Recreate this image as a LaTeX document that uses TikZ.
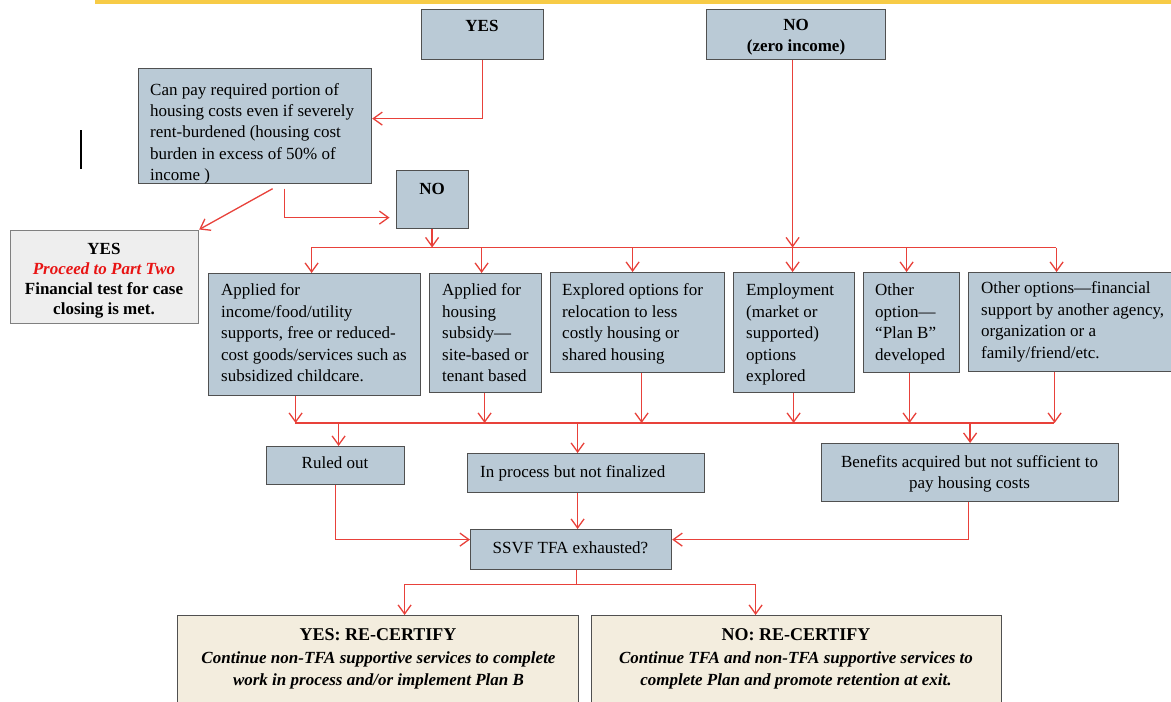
\documentclass[tikz,border=0pt]{standalone}
\usepackage{fontspec}
\setmainfont{Liberation Serif}
\usetikzlibrary{arrows.meta}
\definecolor{boxfill}{RGB}{186,202,214}
\definecolor{boxline}{RGB}{80,80,80}
\definecolor{lgray}{RGB}{238,238,238}
\definecolor{tanfill}{RGB}{243,237,222}
\definecolor{redline}{RGB}{232,65,58}
\definecolor{topgold}{RGB}{247,203,70}
\definecolor{redtext}{RGB}{232,20,20}
\begin{document}
\begin{tikzpicture}[x=1pt,y=-1pt,
  bx/.style={draw=boxline, fill=boxfill, line width=1.2pt, inner sep=0pt, anchor=north west},
  tx/.style={inner sep=0pt, font=\fontsize{17}{21.5}\selectfont, align=left, anchor=north west},
  bt/.style={inner sep=0pt, font=\bfseries\fontsize{17}{21}\selectfont, align=center, anchor=north},
  ln/.style={draw=redline, line width=1.3pt},
  arr/.style={ln, -{Straight Barb[length=9pt,width=13pt]}},
]
\useasboundingbox (0,0) rectangle (1171,702);
\fill[white] (0,0) rectangle (1171,702);
\fill[fill=topgold] (95,-1) rectangle (1171,3.5);
\draw[black, line width=1.3pt] (81,130) -- (81,169);

% boxes
\node[bx, minimum width=122pt, minimum height=50.5pt] (yes1) at (421,8.5) {};
\node[bx, minimum width=179pt, minimum height=50.5pt] (no1) at (706,8.5) {};
\node[bx, minimum width=233.5pt, minimum height=114.5pt] (canpay) at (137.5,68) {};
\node[bx, minimum width=72pt, minimum height=58pt] (no2) at (395.5,169.5) {};
\node[bx, fill=lgray, draw=gray, minimum width=188pt, minimum height=93pt] (yesleft) at (10,229.5) {};
\node[bx, minimum width=212pt, minimum height=122pt] (b1) at (208,273) {};
\node[bx, minimum width=112pt, minimum height=119pt] (b2) at (429,273) {};
\node[bx, minimum width=174pt, minimum height=100pt] (b3) at (550,272) {};
\node[bx, minimum width=121pt, minimum height=120pt] (b4) at (733,272) {};
\node[bx, minimum width=96pt, minimum height=100pt] (b5) at (863,272) {};
\node[bx, minimum width=210pt, minimum height=99pt] (b6) at (968,272) {};
\node[bx, minimum width=138pt, minimum height=38pt] (ruled) at (266,446) {};
\node[bx, minimum width=237pt, minimum height=39pt] (inproc) at (467,453) {};
\node[bx, minimum width=297pt, minimum height=58pt] (benefits) at (821,443) {};
\node[bx, minimum width=201pt, minimum height=40pt] (ssvf) at (470,529) {};
\node[bx, fill=tanfill, minimum width=401pt, minimum height=95pt] (yesrc) at (177,615) {};
\node[bx, fill=tanfill, minimum width=410pt, minimum height=95pt] (norc) at (591,615) {};

% texts
\node[bt] (t-yes1) at (482,20) {YES};
\begin{scope}
\clip (no1.north west) rectangle (no1.south east);
\node[bt] (t-no1) at (796,19.5) {NO\\(zero income)};
\end{scope}
\begin{scope}
\clip (canpay.north west) rectangle (canpay.south east);
\node[tx, font=\fontsize{17}{21.3}\selectfont] (t-canpay) at (150,83) {Can pay required portion of\\housing costs even if severely\\rent-burdened (housing cost\\burden in excess of 50\% of\\income )};
\end{scope}
\node[bt] (t-no2) at (432,183.5) {NO};
\node[bt, font=\bfseries\fontsize{17}{20}\selectfont] (t-yesleft) at (104,243) {YES\\{\color{redtext}\itshape Proceed to Part Two}\\Financial test for case\\closing is met.};
\node[tx] (t-b1) at (221,283.5) {Applied for\\income/food/utility\\supports, free or reduced-\\cost goods/services such as\\subsidized childcare.};
\node[tx] (t-b2) at (442,283.5) {Applied for\\housing\\subsidy—\\site-based or\\tenant based};
\node[tx] (t-b3) at (562,283.5) {Explored options for\\relocation to less\\costly housing or\\shared housing};
\node[tx] (t-b4) at (746,283.5) {Employment\\(market or\\supported)\\options\\explored};
\node[tx] (t-b5) at (875,283.5) {Other\\option—\\“Plan B”\\developed};
\node[tx] (t-b6) at (981,281.5) {Other options—financial\\support by another agency,\\organization or a\\family/friend/etc.};
\node[inner sep=0pt, font=\fontsize{17}{21}\selectfont, anchor=base] (t-ruled) at (335,468.5) {Ruled out};
\node[inner sep=0pt, font=\fontsize{17}{21}\selectfont, anchor=base west] (t-inproc) at (480,477) {In process but not finalized};
\node[inner sep=0pt, font=\fontsize{17}{21}\selectfont, align=center, anchor=north] (t-ben) at (969.5,455.5) {Benefits acquired but not sufficient to\\pay housing costs};
\node[inner sep=0pt, font=\fontsize{17}{21}\selectfont, anchor=base] (t-ssvf) at (570.5,553) {SSVF TFA exhausted?};
\node[inner sep=0pt, font=\bfseries\fontsize{18}{22}\selectfont, anchor=base] (t-yesrc) at (378,640) {YES: RE-CERTIFY};
\node[inner sep=0pt, font=\bfseries\itshape\fontsize{17}{22}\selectfont, align=center, anchor=north] (t-yesrc2) at (378.5,651.5) {Continue non-TFA supportive services to complete\\work in process and/or implement Plan B};
\node[inner sep=0pt, font=\bfseries\fontsize{18}{22}\selectfont, anchor=base] (t-norc) at (796,640) {NO: RE-CERTIFY};
\node[inner sep=0pt, font=\bfseries\itshape\fontsize{17}{22}\selectfont, align=center, anchor=north] (t-norc2) at (796,651.5) {Continue TFA and non-TFA supportive services to\\complete Plan and promote retention at exit.};

% connectors
\draw[arr] (yes1.south) |- ([yshift=7.25pt]canpay.east);
\draw[arr] ([xshift=17.75pt,yshift=-5pt]canpay.south) -- (yesleft.north east);
\draw[arr, shorten >=6pt] ([xshift=29.75pt,yshift=-5pt]canpay.south) |- ([yshift=-18.5pt]no2.west);

\coordinate (dL) at (311,247.5);
\coordinate (dR) at (1056,247.5);
\draw[ln] (dL) -- (dR);
\draw[arr] (no2.south) -- (no2.south |- dL);
\draw[arr] ([xshift=-3.5pt]no1.south) -- ([xshift=-3.5pt]no1.south |- dL);
\foreach \b/\s in {b1/-3,b2/-4,b3/-5,b4/-1.5,b5/-5,b6/-17}
  \draw[arr] ([xshift=\s pt]\b.north |- dL) -- ([xshift=\s pt]\b.north);

\coordinate (cL) at (295,423);
\coordinate (cR) at (1054,423);
\foreach \b/\s in {b1/-19,b2/-1,b3/4,b4/-0.5,b5/-2,b6/-19}
  \draw[arr] ([xshift=\s pt]\b.south) -- ([xshift=\s pt]\b.south |- cL);
\draw[ln] (cL) -- (cR);
\draw[arr] ([xshift=3pt]ruled.north |- cL) -- ([xshift=3pt]ruled.north);
\draw[arr] ([xshift=-8.5pt]inproc.north |- cL) -- ([xshift=-8.5pt]inproc.north);
\draw[arr] (benefits.north |- cL) -- (benefits.north);

\draw[arr] (ruled.south) |- ([yshift=10pt]ssvf.west);
\draw[arr] ([xshift=-8.5pt]inproc.south) -- ([xshift=-8.5pt]inproc.south |- ssvf.north);
\draw[arr] ([xshift=-1.5pt]benefits.south) |- ([yshift=10pt]ssvf.east);

\coordinate (sJ) at ([xshift=5.5pt,yshift=-14.5pt]ssvf.south);
\draw[ln] ([xshift=5.5pt]ssvf.south) -- (sJ);
\draw[arr] (sJ) -| ([xshift=26.5pt]yesrc.north);
\draw[arr] (sJ) -| ([xshift=-41pt]norc.north);
\end{tikzpicture}
\end{document}
